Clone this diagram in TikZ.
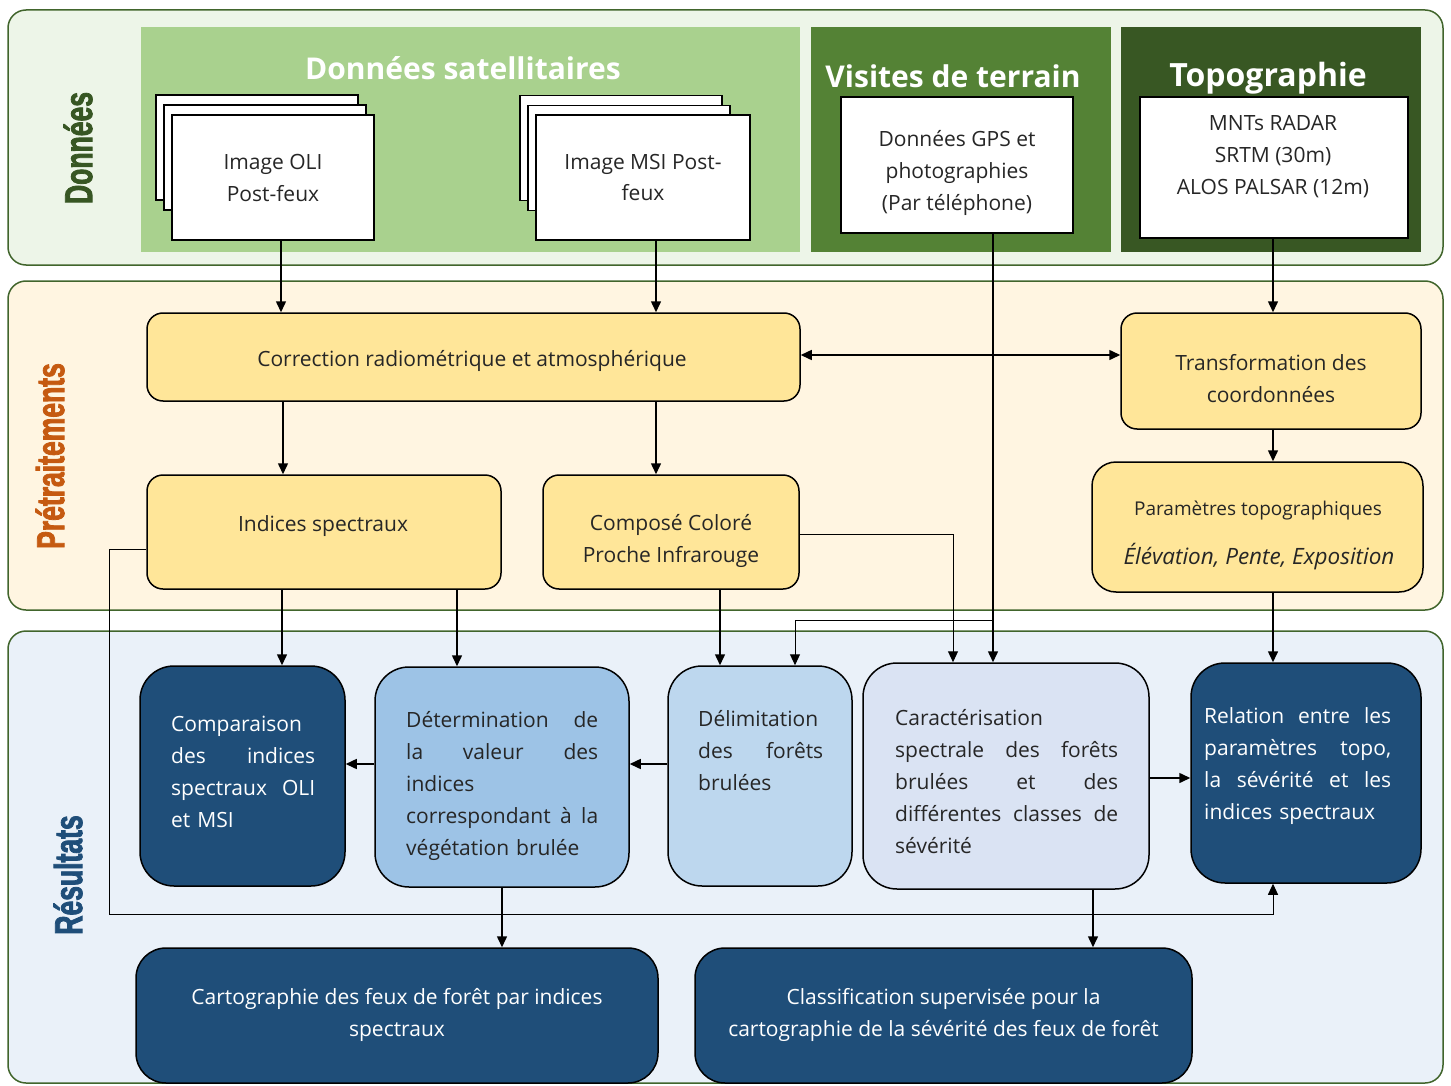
\documentclass[tikz,border=0pt]{standalone}
\usepackage{fontspec}
\setmainfont{Open Sans}
\newfontfamily\sidefont[FakeStretch=0.68,FakeBold=2]{Liberation Sans}
\usetikzlibrary{arrows.meta}
\definecolor{pborder}{HTML}{41652C}
\definecolor{donfill}{HTML}{EDF5E8}
\definecolor{prefill}{HTML}{FFF5E1}
\definecolor{resfill}{HTML}{EAF1F9}
\definecolor{satfill}{HTML}{A9D18E}
\definecolor{visfill}{HTML}{548235}
\definecolor{topfill}{HTML}{385723}
\definecolor{yfill}{HTML}{FFE699}
\definecolor{navy}{HTML}{1F4E79}
\definecolor{midblue}{HTML}{9DC3E6}
\definecolor{lblue}{HTML}{BDD7EE}
\definecolor{pblue}{HTML}{DAE3F3}
\definecolor{txt}{HTML}{262626}
\definecolor{orangelab}{HTML}{C55A11}
\definecolor{greenlab}{HTML}{375623}
\newcommand\bodysize{\fontsize{21}{32}\selectfont}
\begin{document}
\begin{tikzpicture}[x=1pt,y=-1pt,
  box/.style={inner sep=0pt, line width=1.5pt, draw=black},
  panel/.style={box, draw=pborder, rounded corners=18pt},
  ybox/.style={box, fill=yfill, rounded corners=16pt},
  rbox/.style={box, rounded corners=34pt},
  sheet/.style={box, fill=white},
  lbl/.style={inner sep=0pt, text=txt, font=\bodysize, align=center},
  wlbl/.style={lbl, text=white},
  jtxt/.style={inner sep=0pt, text=txt, font=\bodysize, anchor=west, align=left},
  hdr/.style={text=white, font=\fontsize{30}{32}\selectfont\bfseries, inner sep=0pt},
  side/.style={rotate=90, font={\sidefont\bfseries\fontsize{39}{40}\selectfont}, inner sep=0pt},
  arr/.style={-{Triangle[length=11pt,width=10pt]}, line width=1.5pt},
  thin/.style={line width=1pt}]
\useasboundingbox (0,0) rectangle (1451,1086);
% panels
\node[panel, fill=donfill, minimum width=1435, minimum height=255] (pdon) at (725.5,137.5) {};
\node[panel, fill=prefill, minimum width=1435, minimum height=329] (ppre) at (725.5,445.5) {};
\node[panel, fill=resfill, minimum width=1435, minimum height=452] (pres) at (725.5,857) {};
\node[side, text=greenlab] (sdon) at (78,148) {Données};
\node[side, text=orangelab] (spre) at (50,456) {Prétraitements};
\node[side, text=navy] (sres) at (68,875) {Résultats};
% data groups
\node[inner sep=0pt, fill=satfill, minimum width=659, minimum height=225] (sat) at (470.5,139.5) {};
\node[inner sep=0pt, fill=visfill, minimum width=300, minimum height=225] (vis) at (961,139.5) {};
\node[inner sep=0pt, fill=topfill, minimum width=300, minimum height=225] (top) at (1271,139.5) {};
\node[hdr] (hsat) at (463,68) {Données satellitaires};
\node[hdr] (hvis) at (953,76) {Visites de terrain};
\node[hdr, font=\fontsize{32}{34}\selectfont\bfseries] (htop) at (1268,78) {Topographie};
% stacked images
\node[sheet, minimum width=202, minimum height=105] (olic) at (257,147.5) {};
\node[sheet, minimum width=202, minimum height=105] (olib) at (265,157.5) {};
\node[sheet, minimum width=202, minimum height=125, lbl] (oli) at (273,177.5) {Image OLI\\Post-feux};
\node[sheet, minimum width=202, minimum height=105] (msic) at (621,148) {};
\node[sheet, minimum width=202, minimum height=105] (msib) at (629,158) {};
\node[sheet, minimum width=214, minimum height=125, lbl] (msi) at (643,177.5) {Image MSI Post-\\feux};
\node[sheet, minimum width=232, minimum height=136] (gps) at (957,165) {};
\node[lbl] (gpst) at (957,173) {Données GPS et\\photographies\\(Par téléphone)};
\node[sheet, minimum width=268, minimum height=141] (mnt) at (1274,167.5) {};
\node[lbl] (mntt) at (1273,157) {MNTs RADAR\\SRTM (30m)\\ALOS PALSAR (12m)};
% pretraitements
\node[ybox, minimum width=653, minimum height=88] (corr) at (473.5,357) {};
\node[lbl] (corrt) at (472,361) {Correction radiométrique et atmosphérique};
\node[ybox, minimum width=300, minimum height=116] (trans) at (1271,371) {};
\node[lbl] (transt) at (1271,379) {Transformation des\\coordonnées};
\node[ybox, minimum width=354, minimum height=114] (ind) at (324,532) {};
\node[lbl] (indt) at (323,526) {Indices spectraux};
\node[ybox, minimum width=256, minimum height=114] (comp) at (671,532) {};
\node[lbl] (compt) at (671,541) {Composé Coloré\\Proche Infrarouge};
\node[ybox, rounded corners=24pt, minimum width=331, minimum height=130] (param) at (1257.5,527) {};
\node[lbl, font=\fontsize{19}{32}\selectfont] (paramt1) at (1258,511) {Paramètres topographiques};
\node[lbl, font=\fontsize{22.5}{32}\selectfont\itshape] (paramt2) at (1259,557) {Élévation, Pente, Exposition};
% resultats
\node[rbox, fill=navy, minimum width=205, minimum height=220] (cmp) at (242.5,776) {};
\node[jtxt, text=white, text width=144] (cmpt) at (171,772) {Comparaison\\des\hfill indices\\spectraux\hfill OLI\\et MSI};
\node[rbox, fill=midblue, minimum width=254, minimum height=220] (det) at (502,777) {};
\node[jtxt, text width=192] (dett) at (406,786) {Détermination\hfill de\\la\hfill valeur\hfill des\\indices\\correspondant\hfill à\hfill la\\végétation brulée};
\node[rbox, fill=lblue, minimum width=184, minimum height=220] (deli) at (760,776) {};
\node[jtxt, text width=125] (delit) at (698,751) {Délimitation\\des\hfill forêts\\brulées};
\node[rbox, fill=pblue, minimum width=286, minimum height=226] (cara) at (1006,776) {};
\node[jtxt, text width=223] (carat) at (895,782) {Caractérisation\\spectrale\hfill des\hfill forêts\\brulées\hfill et\hfill des\\différentes\hfill classes\hfill de\\sévérité};
\node[rbox, fill=navy, minimum width=230, minimum height=220] (rel) at (1306,773) {};
\node[jtxt, text=white, text width=187] (relt) at (1204,766) {Relation\hfill entre\hfill les\\paramètres\hfill topo,\\la\hfill sévérité\hfill et\hfill les\\indices spectraux};
\node[rbox, rounded corners=30pt, fill=navy, minimum width=522, minimum height=135] (carto) at (397,1015.5) {};
\node[wlbl] (cartot) at (397,1015) {Cartographie des feux de forêt par indices\\spectraux};
\node[rbox, rounded corners=30pt, fill=navy, minimum width=497, minimum height=135] (clas) at (943.5,1015.5) {};
\node[wlbl] (clast) at (943.5,1015) {Classification supervisée pour la\\cartographie de la sévérité des feux de forêt};
% helper coordinates
\coordinate (x281) at (281,0);
\coordinate (x656) at (656,0);
\coordinate (x993) at (993,0);
\coordinate (x795) at (795,0);
\coordinate (x283) at (283,0);
\coordinate (x282) at (282,0);
\coordinate (x457) at (457,0);
\coordinate (x720) at (720,0);
\coordinate (x953) at (953,0);
\coordinate (x1273) at (1273,0);
\coordinate (x1093) at (1093,0);
\coordinate (x502) at (502,0);
\coordinate (y355) at (0,355);
\coordinate (y534) at (0,534);
\coordinate (y549) at (0,549);
\coordinate (y764) at (0,764);
\coordinate (y778) at (0,778);
\coordinate (br) at (993,620);
\coordinate (lp1) at (109,549);
\coordinate (lp2) at (109,914);
% connectors
\draw[arr] (oli.south -| x281) -- (corr.north -| x281);
\draw[arr] (msi.south -| x656) -- (corr.north -| x656);
\draw[arr] (gps.south -| x993) -- (cara.north -| x993);
\draw[arr, thin] (br) -| (deli.north -| x795);
\draw[arr] (mnt.south -| x1273) -- (trans.north -| x1273);
\draw[{Triangle[length=11pt,width=10pt]}-{Triangle[length=11pt,width=10pt]}, line width=1.5pt] (corr.east |- y355) -- (trans.west |- y355);
\draw[arr] (corr.south -| x283) -- (ind.north -| x283);
\draw[arr] (corr.south -| x656) -- (comp.north -| x656);
\draw[arr] (trans.south -| x1273) -- (param.north -| x1273);
\draw[arr] (param.south -| x1273) -- (rel.north -| x1273);
\draw[arr] (ind.south -| x282) -- (cmp.north -| x282);
\draw[arr] (ind.south -| x457) -- (det.north -| x457);
\draw[arr] (comp.south -| x720) -- (deli.north -| x720);
\draw[arr, thin] (comp.east |- y534) -| (cara.north -| x953);
\draw[arr, thin] (ind.west |- y549) -- (lp1) -- (lp2) -| (rel.south -| x1273);
\draw[arr] (deli.west |- y764) -- (det.east |- y764);
\draw[arr] (det.west |- y764) -- (cmp.east |- y764);
\draw[arr] (cara.east |- y778) -- (rel.west |- y778);
\draw[arr] (det.south -| x502) -- (carto.north -| x502);
\draw[arr] (cara.south -| x1093) -- (clas.north -| x1093);
\end{tikzpicture}
\end{document}
